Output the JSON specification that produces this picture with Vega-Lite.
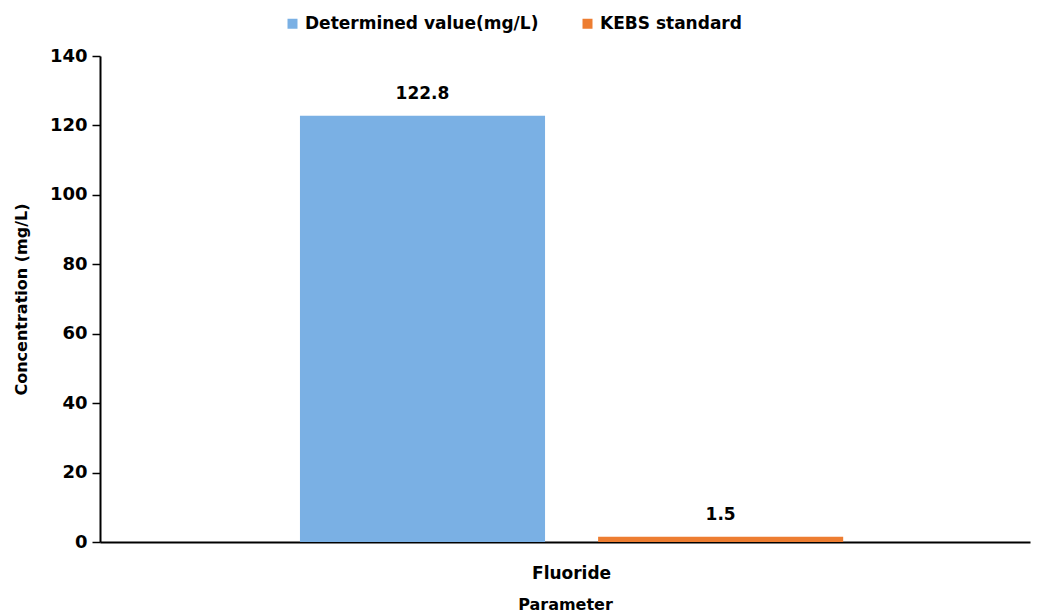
{
  "$schema": "https://vega.github.io/schema/vega-lite/v6.json",
  "width": 930,
  "height": 486,
  "autosize": {"type": "none"},
  "padding": {"left": 100, "top": 56, "right": 7, "bottom": 73},
  "background": "white",
  "config": {
    "view": {"stroke": null},
    "font": "DejaVu Sans",
    "axis": {"grid": false, "domainColor": "black", "tickColor": "black", "labelColor": "black", "titleColor": "black", "labelFont": "DejaVu Sans", "titleFont": "DejaVu Sans", "labelFontWeight": "bold", "titleFontWeight": "bold", "labelFontSize": 17, "titleFontSize": 16}
  },
  "data": {
    "values": [
      {"Parameter": "Fluoride", "Series": "Determined value(mg/L)", "Value": 122.8},
      {"Parameter": "Fluoride", "Series": "KEBS standard", "Value": 1.5}
    ]
  },
  "encoding": {
    "x": {
      "field": "Parameter", "type": "nominal",
      "scale": {"paddingInner": 0, "paddingOuter": 0.356, "align": 0.517},
      "axis": {"title": "Parameter", "labelAngle": 0, "ticks": false, "labelPadding": 23, "titlePadding": 15, "domainWidth": 2}
    },
    "xOffset": {"field": "Series", "type": "nominal", "scale": {"paddingInner": 0.178, "paddingOuter": 0}},
    "y": {
      "field": "Value", "type": "quantitative",
      "scale": {"domain": [0, 140]},
      "axis": {"title": "Concentration (mg/L)", "titleFontSize": 16, "labelFontSize": 18, "values": [0, 20, 40, 60, 80, 100, 120, 140], "tickSize": 8, "labelPadding": 5, "titlePadding": 20, "domainWidth": 2, "tickWidth": 1.5}
    }
  },
  "layer": [
    {
      "mark": {"type": "bar", "stroke": null},
      "encoding": {
        "color": {
          "field": "Series", "type": "nominal",
          "scale": {"domain": ["Determined value(mg/L)", "KEBS standard"], "range": ["#7AB0E4", "#ED7D31"]},
          "legend": {"title": null, "orient": "none", "legendX": 184, "legendY": -41, "direction": "horizontal", "symbolType": "square", "symbolSize": 100, "labelFont": "DejaVu Sans", "labelFontWeight": "bold", "labelFontSize": 17, "labelColor": "black", "labelLimit": 400, "columnPadding": 40, "symbolStrokeWidth": 0}
        }
      }
    },
    {
      "mark": {"type": "text", "dy": -22, "font": "DejaVu Sans", "fontWeight": "bold", "fontSize": 17, "color": "black"},
      "encoding": {"text": {"field": "Value", "type": "quantitative"}}
    }
  ]
}
